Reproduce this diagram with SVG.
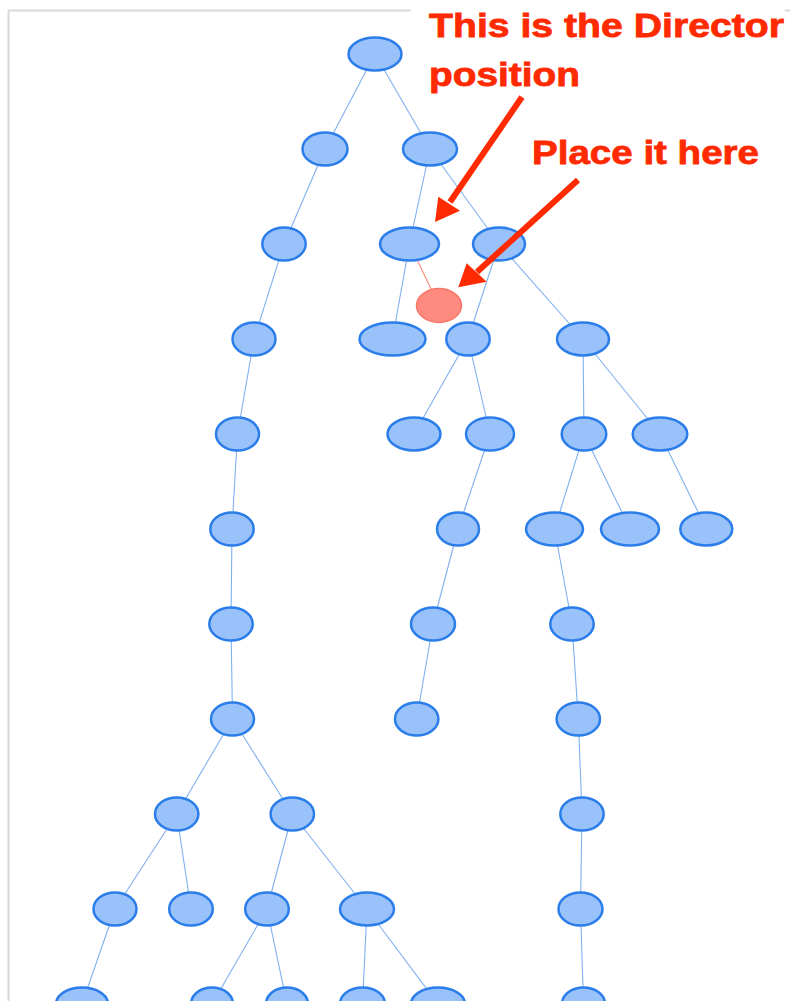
<svg xmlns="http://www.w3.org/2000/svg" width="790" height="1001" viewBox="0 0 790 1001">
<style>
.n{fill:#99c2fa;stroke:#2b7de9;stroke-width:2.5}
.e{stroke:#7fb0f0;stroke-width:1.1;fill:none}
.ann{fill:#ff2a00;stroke:#ff2a00;stroke-width:0.8;font-family:"Liberation Sans",Arial,sans-serif;font-weight:bold;font-size:34px}
.arr{stroke:#ff2a00;stroke-width:6;fill:none}
.head{fill:#ff2a00}
</style>
<rect x="0" y="0" width="790" height="1001" fill="#ffffff"/>
<path d="M8.5 1001 V10.5 H790" fill="none" stroke="#d8d8d8" stroke-width="2"/>
<rect x="411" y="0" width="374" height="100" fill="#ffffff"/>
<g id="connectors">
<line class="e" x1="375" y1="54" x2="325" y2="149"/>
<line class="e" x1="375" y1="54" x2="430" y2="149"/>
<line class="e" x1="325" y1="149" x2="284" y2="244"/>
<line class="e" x1="284" y1="244" x2="254" y2="339"/>
<line class="e" x1="254" y1="339" x2="237.5" y2="434"/>
<line class="e" x1="237.5" y1="434" x2="232" y2="529"/>
<line class="e" x1="232" y1="529" x2="231" y2="624"/>
<line class="e" x1="231" y1="624" x2="232.5" y2="719"/>
<line class="e" x1="232.5" y1="719" x2="176.7" y2="814"/>
<line class="e" x1="232.5" y1="719" x2="292.3" y2="814"/>
<line class="e" x1="176.7" y1="814" x2="115" y2="909"/>
<line class="e" x1="176.7" y1="814" x2="191" y2="909"/>
<line class="e" x1="292.3" y1="814" x2="267" y2="909"/>
<line class="e" x1="292.3" y1="814" x2="367" y2="909"/>
<line class="e" x1="115" y1="909" x2="82" y2="1004"/>
<line class="e" x1="267" y1="909" x2="212" y2="1004"/>
<line class="e" x1="267" y1="909" x2="287" y2="1004"/>
<line class="e" x1="367" y1="909" x2="362.5" y2="1004"/>
<line class="e" x1="367" y1="909" x2="438" y2="1004"/>
<line class="e" x1="430" y1="149" x2="409.5" y2="244"/>
<line class="e" x1="430" y1="149" x2="499" y2="244"/>
<line class="e" x1="409.5" y1="244" x2="392.5" y2="339"/>
<line x1="409.5" y1="244" x2="439" y2="305.5" stroke="#f7907f" stroke-width="1.2"/>
<line class="e" x1="499" y1="244" x2="468" y2="339"/>
<line class="e" x1="499" y1="244" x2="583" y2="339"/>
<line class="e" x1="468" y1="339" x2="414" y2="434"/>
<line class="e" x1="468" y1="339" x2="490" y2="434"/>
<line class="e" x1="490" y1="434" x2="458" y2="529"/>
<line class="e" x1="458" y1="529" x2="433" y2="624"/>
<line class="e" x1="433" y1="624" x2="416.7" y2="719"/>
<line class="e" x1="583" y1="339" x2="584" y2="434"/>
<line class="e" x1="583" y1="339" x2="660" y2="434"/>
<line class="e" x1="584" y1="434" x2="554.5" y2="529"/>
<line class="e" x1="584" y1="434" x2="630" y2="529"/>
<line class="e" x1="660" y1="434" x2="706.3" y2="529"/>
<line class="e" x1="554.5" y1="529" x2="572" y2="624"/>
<line class="e" x1="572" y1="624" x2="578.3" y2="719"/>
<line class="e" x1="578.3" y1="719" x2="582" y2="814"/>
<line class="e" x1="582" y1="814" x2="580.5" y2="909"/>
<line class="e" x1="580.5" y1="909" x2="583.5" y2="1004"/>
</g>
<g id="n0"><ellipse class="n" cx="375" cy="54" rx="26.5" ry="16.5"/></g>
<g id="n1"><ellipse class="n" cx="325" cy="149" rx="22.5" ry="16.5"/></g>
<g id="n2"><ellipse class="n" cx="430" cy="149" rx="27" ry="16.5"/></g>
<g id="n3"><ellipse class="n" cx="284" cy="244" rx="21.7" ry="16.5"/></g>
<g id="n4"><ellipse class="n" cx="409.5" cy="244" rx="29.5" ry="16.5"/></g>
<g id="n5"><ellipse class="n" cx="499" cy="244" rx="26" ry="16.5"/></g>
<g id="director"><ellipse cx="439" cy="305.5" rx="22.5" ry="17" fill="#ff8a7f" stroke="#f8776a" stroke-width="1.5"/></g>
<g id="n6"><ellipse class="n" cx="254" cy="339" rx="21.5" ry="16.5"/></g>
<g id="n7"><ellipse class="n" cx="392.5" cy="339" rx="33" ry="16.5"/></g>
<g id="n8"><ellipse class="n" cx="468" cy="339" rx="21.7" ry="16.5"/></g>
<g id="n9"><ellipse class="n" cx="583" cy="339" rx="26" ry="16.5"/></g>
<g id="n10"><ellipse class="n" cx="237.5" cy="434" rx="21.5" ry="16.5"/></g>
<g id="n11"><ellipse class="n" cx="414" cy="434" rx="26.5" ry="16.5"/></g>
<g id="n12"><ellipse class="n" cx="490" cy="434" rx="24" ry="16.5"/></g>
<g id="n13"><ellipse class="n" cx="584" cy="434" rx="22.3" ry="16.5"/></g>
<g id="n14"><ellipse class="n" cx="660" cy="434" rx="27.3" ry="16.5"/></g>
<g id="n15"><ellipse class="n" cx="232" cy="529" rx="21.7" ry="16.5"/></g>
<g id="n16"><ellipse class="n" cx="458" cy="529" rx="21" ry="16.5"/></g>
<g id="n17"><ellipse class="n" cx="554.5" cy="529" rx="28.5" ry="16.5"/></g>
<g id="n18"><ellipse class="n" cx="630" cy="529" rx="29" ry="16.5"/></g>
<g id="n19"><ellipse class="n" cx="706.3" cy="529" rx="26" ry="16.5"/></g>
<g id="n20"><ellipse class="n" cx="231" cy="624" rx="21.7" ry="16.5"/></g>
<g id="n21"><ellipse class="n" cx="433" cy="624" rx="22" ry="16.5"/></g>
<g id="n22"><ellipse class="n" cx="572" cy="624" rx="21.7" ry="16.5"/></g>
<g id="n23"><ellipse class="n" cx="232.5" cy="719" rx="21.5" ry="16.5"/></g>
<g id="n24"><ellipse class="n" cx="416.7" cy="719" rx="21.7" ry="16.5"/></g>
<g id="n25"><ellipse class="n" cx="578.3" cy="719" rx="21.7" ry="16.5"/></g>
<g id="n26"><ellipse class="n" cx="176.7" cy="814" rx="21.7" ry="16.5"/></g>
<g id="n27"><ellipse class="n" cx="292.3" cy="814" rx="21.7" ry="16.5"/></g>
<g id="n28"><ellipse class="n" cx="582" cy="814" rx="21.7" ry="16.5"/></g>
<g id="n29"><ellipse class="n" cx="115" cy="909" rx="21.5" ry="16.5"/></g>
<g id="n30"><ellipse class="n" cx="191" cy="909" rx="21.8" ry="16.5"/></g>
<g id="n31"><ellipse class="n" cx="267" cy="909" rx="21.8" ry="16.5"/></g>
<g id="n32"><ellipse class="n" cx="367" cy="909" rx="27" ry="16.5"/></g>
<g id="n33"><ellipse class="n" cx="580.5" cy="909" rx="22" ry="16.5"/></g>
<g id="n34"><ellipse class="n" cx="82" cy="1004" rx="26" ry="16.5"/></g>
<g id="n35"><ellipse class="n" cx="212" cy="1004" rx="21" ry="16.5"/></g>
<g id="n36"><ellipse class="n" cx="287" cy="1004" rx="21" ry="16.5"/></g>
<g id="n37"><ellipse class="n" cx="362.5" cy="1004" rx="22.5" ry="16.5"/></g>
<g id="n38"><ellipse class="n" cx="438" cy="1004" rx="27" ry="16.5"/></g>
<g id="n39"><ellipse class="n" cx="583.5" cy="1004" rx="21.5" ry="16.5"/></g>
<g id="annotations">
<text class="ann" x="429" y="37" textLength="355" lengthAdjust="spacingAndGlyphs">This is the Director</text>
<text class="ann" x="429" y="86" textLength="151" lengthAdjust="spacingAndGlyphs">position</text>
<text class="ann" x="532" y="164" textLength="227" lengthAdjust="spacingAndGlyphs">Place it here</text>
<line class="arr" x1="522" y1="97" x2="450" y2="202"/>
<polygon class="head" points="435,222 438.3,196.7 460,210.7"/>
<line class="arr" x1="578" y1="180" x2="477" y2="272"/>
<polygon class="head" points="458.3,287.3 466.7,263.3 486.7,281.7"/>
</g>
</svg>
